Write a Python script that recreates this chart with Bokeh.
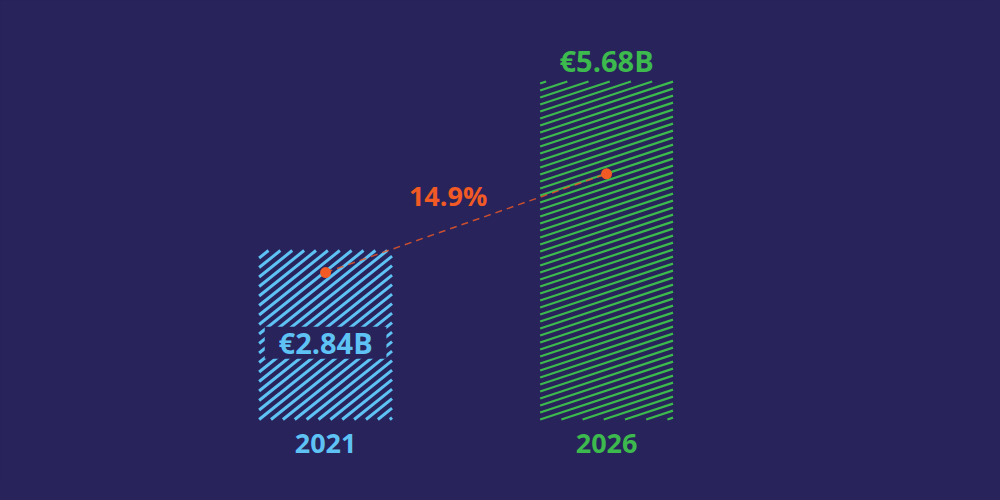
from bokeh.plotting import figure
from bokeh.models import Range1d
from bokeh.core.properties import value
from bokeh.embed import file_html
from bokeh.resources import INLINE

# ---- data ----
years = ["2021", "2026"]
market_values = [2.84, 5.68]
value_labels = ["€2.84B", "€5.68B"]
growth_label = "14.9%"
growth_dot_y = [2.47, 4.13]
inner_label_y = [1.29]

BG = "#28235a"
BLUE = "#5ec2f5"
GREEN = "#3dba4e"
ORANGE = "#f15a24"
FONT = "Open Sans"

W, H = 984, 484
X_START, X_END = -1.157, 2.345
Y_START, Y_END = -1.092, 7.042
PX_X = W / (X_END - X_START)
PX_Y = H / (Y_END - Y_START)
BAR_W = 0.473

xs = list(range(len(years)))


def hatch_lines(xc, top, slope, period):
    """Diagonal hatch segments (in data units) clipped to the bar [xc±BAR_W/2] x [0, top]."""
    wpx = BAR_W * PX_X
    hpx = top * PX_Y
    left = xc - BAR_W / 2
    lx, ly = [], []
    c = -slope * wpx
    c = c - (c % period)
    while c < hpx:
        x_lo = max(0.0, -c / slope)
        x_hi = min(wpx, (hpx - c) / slope)
        if x_hi > x_lo:
            lx.append([left + x_lo / PX_X, left + x_hi / PX_X])
            ly.append([(c + slope * x_lo) / PX_Y, (c + slope * x_hi) / PX_Y])
        c += period
    return lx, ly


p = figure(width=W, height=H, output_backend="svg", toolbar_location=None,
           x_range=Range1d(X_START, X_END), y_range=Range1d(Y_START, Y_END),
           min_border=0, background_fill_color=BG, border_fill_color=BG,
           outline_line_color=None)
p.axis.visible = False
p.grid.visible = False

# bars (transparent body) + hatch
p.vbar(x=xs, top=market_values, bottom=0, width=BAR_W, fill_color=BG, line_color=None)
bx, by = hatch_lines(xs[0], market_values[0], 0.8, 9.5)
p.multi_line(xs=bx, ys=by, line_color=BLUE, line_width=3)
gx, gy = hatch_lines(xs[1], market_values[1], 0.33, 7)
p.multi_line(xs=gx, ys=gy, line_color=GREEN, line_width=2.2)

# band behind inner label
p.rect(x=[xs[0]], y=inner_label_y, width=BAR_W - 0.04, height=32, height_units="screen",
       fill_color=BG, line_color=None)
p.text(x=[xs[0]], y=inner_label_y, text=[value_labels[0]], text_color=BLUE,
       text_font=value(FONT), text_font_style="bold", text_font_size="29px",
       text_align="center", text_baseline="middle")
p.text(x=[xs[1]], y=[market_values[1]], text=[value_labels[1]], text_color=GREEN,
       text_font=value(FONT), text_font_style="bold", text_font_size="29px",
       text_align="center", text_baseline="middle", y_offset=-21)

# year labels
p.text(x=xs, y=[0, 0], text=years, text_color=[BLUE, GREEN],
       text_font=value(FONT), text_font_style="bold", text_font_size="27px",
       text_align="center", text_baseline="middle", y_offset=24)

# growth line
p.line(x=xs, y=growth_dot_y, line_color=ORANGE, line_alpha=0.8, line_width=1.5,
       line_dash="7 5")
p.scatter(x=xs, y=growth_dot_y, size=11, fill_color=ORANGE, line_color=None)
p.text(x=[sum(xs) / 2], y=[sum(growth_dot_y) / 2], text=[growth_label], text_color=ORANGE,
       text_font=value(FONT), text_font_style="bold", text_font_size="27px",
       text_align="center", text_baseline="middle", x_offset=-18, y_offset=-28)

html = file_html(p, INLINE)
html = html.replace("</head>", f"<style>html,body{{background:{BG};}}</style></head>", 1)
open("out.html", "w").write(html)
